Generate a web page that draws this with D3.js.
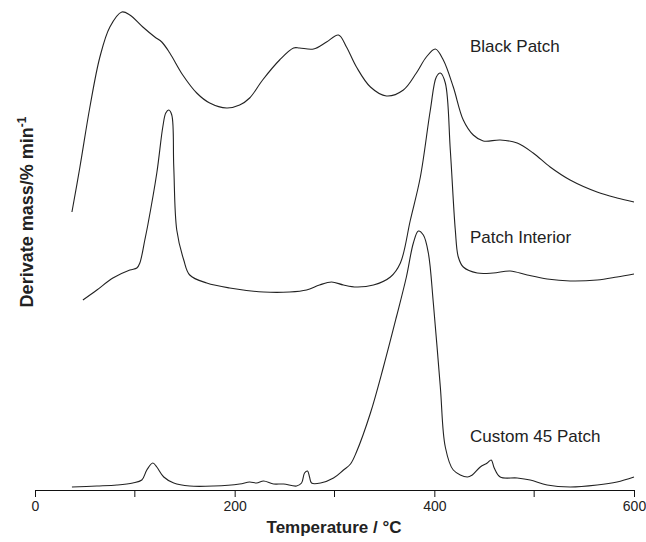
<!DOCTYPE html>
<html lang="en">
<head>
    <meta charset="UTF-8">
    <title>DTG curves</title>
    <script src="https://d3js.org/d3.v7.min.js"></script>
    <style>
        body { margin: 0; background: #fff; }
        svg { display: block; font-family: "Liberation Sans", Arial, sans-serif; }
    </style>
</head>
<body>
    <div id="chart"></div>
    <script>
        // Temperatures (°C) and derivative mass values (arbitrary, offset curves)
        var blackT = [37, 45, 55, 65, 75, 87, 95, 108, 120, 127, 135, 148, 162, 175, 192, 205, 215, 228, 245, 259, 265, 279, 292, 304, 312, 322, 336, 352, 369, 382, 392, 401, 409, 419, 429, 439, 449, 466, 483, 499, 516, 536, 563, 583, 600];
        var blackV = [278, 323, 383, 433, 463, 478, 475, 463, 453, 448, 437, 415, 397, 387, 382, 385, 392, 410, 430, 442, 442, 441, 448, 455, 443, 423, 403, 394, 400, 417, 433, 441, 430, 403, 370, 355, 349, 350, 347, 337, 323, 310, 298, 292, 288];

        var interiorT = [48, 62, 78, 95, 102, 105, 110, 113, 122, 128, 131, 134, 137, 139, 142, 149, 155, 172, 195, 229, 255, 272, 285, 297, 309, 322, 339, 356, 366, 376, 386, 396, 402, 406, 411, 416, 421, 424, 429, 443, 459, 476, 493, 513, 536, 563, 583, 600];
        var interiorV = [190, 200, 212, 220, 222, 227, 250, 265, 317, 363, 377, 380, 375, 323, 260, 230, 215, 207, 202, 198, 198, 200, 205, 208, 205, 203, 205, 213, 227, 270, 313, 380, 413, 417, 407, 340, 260, 233, 223, 217, 217, 219, 215, 211, 209, 210, 213, 216];

        var customT = [37, 62, 82, 98, 107, 112, 118, 122, 129, 139, 155, 179, 205, 215, 222, 229, 239, 249, 262, 267, 270, 273, 275, 277, 286, 299, 309, 316, 322, 336, 349, 362, 372, 379, 384, 389, 394, 399, 406, 411, 419, 433, 438, 446, 453, 457, 460, 466, 483, 496, 513, 536, 563, 583, 600];
        var customV = [3, 4, 5, 7, 10, 20, 27, 23, 13, 7, 4, 4, 6, 8, 7, 9, 6, 6, 4, 7, 17, 19, 13, 7, 7, 12, 20, 26, 38, 77, 123, 173, 213, 247, 259, 255, 237, 187, 103, 43, 20, 13, 15, 23, 27, 30, 22, 13, 12, 10, 5, 3, 5, 8, 13];

        var seriesNames = ["Black Patch", "Patch Interior", "Custom 45 Patch"];
        var labelY = [46, 237, 436];
        var majorTicks = [0, 200, 400, 600];
        var minorTicks = [100, 300, 500];

        var width = 646, height = 542;
        var svg = d3.select("#chart").append("svg")
            .attr("width", width)
            .attr("height", height);

        var x = d3.scaleLinear().domain([0, 600]).range([35, 634]);
        var y = d3.scaleLinear().domain([0, 480]).range([490, 10]);

        var series = [
            { name: seriesNames[0], t: blackT, v: blackV },
            { name: seriesNames[1], t: interiorT, v: interiorV },
            { name: seriesNames[2], t: customT, v: customV }
        ];

        var line = d3.line()
            .x(function(d) { return x(d[0]); })
            .y(function(d) { return y(d[1]); })
            .curve(d3.curveCatmullRom.alpha(0.5));

        svg.append("g").selectAll("path")
            .data(series)
            .enter().append("path")
            .attr("d", function(s) { return line(d3.zip(s.t, s.v)); })
            .attr("fill", "none")
            .attr("stroke", "#222")
            .attr("stroke-width", 1.1);

        // series labels
        svg.append("g").selectAll("text")
            .data(series)
            .enter().append("text")
            .attr("x", 470)
            .attr("y", function(d, i) { return labelY[i]; })
            .attr("dy", "0.35em")
            .attr("font-size", 17)
            .attr("fill", "#222")
            .text(function(d) { return d.name; });

        // x axis
        var xAxis = svg.append("g")
            .attr("transform", "translate(0,490)")
            .call(d3.axisBottom(x).tickValues(majorTicks).tickSize(7).tickPadding(4).tickFormat(d3.format("d")));
        xAxis.select(".domain").attr("stroke", "#111");
        xAxis.selectAll(".tick line").attr("stroke", "#111");
        xAxis.selectAll(".tick text")
            .attr("font-size", 14)
            .attr("font-family", "Liberation Sans, Arial, sans-serif")
            .attr("fill", "#222");

        svg.append("g").selectAll("line")
            .data(minorTicks)
            .enter().append("line")
            .attr("x1", function(d) { return x(d); })
            .attr("x2", function(d) { return x(d); })
            .attr("y1", 490)
            .attr("y2", 497)
            .attr("stroke", "#111");

        svg.append("text")
            .attr("x", 334)
            .attr("y", 533)
            .attr("text-anchor", "middle")
            .attr("font-size", 17)
            .attr("font-weight", "bold")
            .attr("fill", "#222")
            .text("Temperature / °C");

        var yTitle = svg.append("text")
            .attr("transform", "translate(33,212) rotate(-90)")
            .attr("text-anchor", "middle")
            .attr("font-size", 18)
            .attr("font-weight", "bold")
            .attr("fill", "#222");
        yTitle.append("tspan").text("Derivate mass/% min");
        yTitle.append("tspan")
            .attr("font-size", 12)
            .attr("dy", -7)
            .text("-1");
    </script>
</body>
</html>
